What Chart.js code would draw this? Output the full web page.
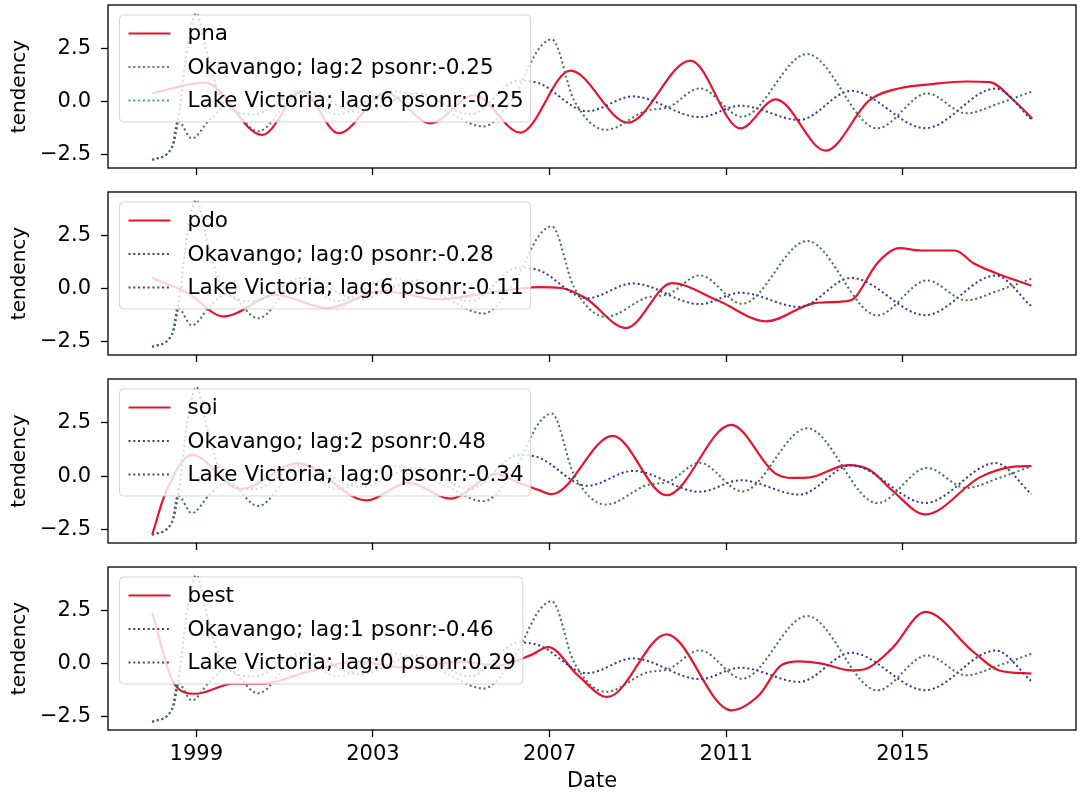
<!DOCTYPE html>
<html>
<head>
<meta charset="utf-8">
<script src="https://cdn.jsdelivr.net/npm/chart.js@4/dist/chart.umd.min.js"></script>
<style>
  html, body { margin: 0; padding: 0; background: #fff; }
  #wrap { position: relative; width: 1080px; height: 794px; }
  #wrap canvas { position: absolute; left: 0; }
</style>
</head>
<body>
<div id="wrap">
  <canvas id="panel0" width="1080" height="187" style="top:0px"></canvas>
  <canvas id="panel1" width="1080" height="187" style="top:187px"></canvas>
  <canvas id="panel2" width="1080" height="188" style="top:374px"></canvas>
  <canvas id="panel3" width="1080" height="232" style="top:562px"></canvas>
</div>
<script>
// axis ticks
const tickYears = [1999, 2003, 2007, 2011, 2015];
const tickValues = [-2.5, 0, 2.5];

// legend texts
const panelNames = ['pna', 'pdo', 'soi', 'best'];
const okavangoLabels = ['Okavango; lag:2 psonr:-0.25', 'Okavango; lag:0 psonr:-0.28', 'Okavango; lag:2 psonr:0.48', 'Okavango; lag:1 psonr:-0.46'];
const victoriaLabels = ['Lake Victoria; lag:6 psonr:-0.25', 'Lake Victoria; lag:6 psonr:-0.11', 'Lake Victoria; lag:0 psonr:-0.34', 'Lake Victoria; lag:0 psonr:0.29'];

// basin series (same in every panel)
const okavangoYears = [1998.0, 1998.45, 1998.6, 1998.8, 1999.0, 1999.25, 1999.6, 2000.3, 2001.4, 2002.7, 2004.0, 2005.2, 2006.3, 2006.76, 2007.85, 2008.89, 2010.4, 2011.32, 2012.66, 2013.83, 2015.51, 2017.1, 2017.91];
const okavangoValues = [-2.75, -2.15, -0.7, 2.6, 4.17, 2.2, 0.0, -0.6, 0.5, -0.5, 0.4, -0.6, 1.0, 0.87, -0.45, 0.25, -0.73, -0.19, -0.86, 0.51, -1.25, 0.62, -0.83];

const victoriaYears = [1998.0, 1998.45, 1998.58, 1998.9, 1999.3, 1999.7, 2000.4, 2001.3, 2002.2, 2003.4, 2004.6, 2005.5, 2006.2, 2006.76, 2007.05, 2007.55, 2008.27, 2009.2, 2009.7, 2010.4, 2011.36, 2012.83, 2014.42, 2015.55, 2016.43, 2017.18, 2017.91];
const victoriaValues = [-2.75, -2.15, -0.9, -1.73, -0.86, -0.25, -1.4, 0.3, -0.6, 0.5, -0.4, -1.17, 0.3, 2.5, 2.94, 0.08, -1.33, -0.42, -0.25, 0.63, -0.71, 2.25, -1.26, 0.39, -0.55, -0.08, 0.47];

// climate indices
const pnaYears = [1998.0, 1999.2, 2000.49, 2001.4, 2002.22, 2003.3, 2004.3, 2005.3, 2006.34, 2007.47, 2008.77, 2010.19, 2011.32, 2012.12, 2013.25, 2014.25, 2014.92, 2015.68, 2016.43, 2016.97, 2017.5, 2017.93];
const pnaValues = [0.4, 0.9, -1.57, 0.5, -1.49, 0.4, -1.02, 0.3, -1.46, 1.46, -0.99, 1.94, -1.26, 0.11, -2.31, 0.08, 0.63, 0.83, 0.95, 0.92, 0.08, -0.8];

const pdoYears = [1998.0, 1998.8, 1999.62, 2000.8, 2001.96, 2003.2, 2004.5, 2005.6, 2006.76, 2007.26, 2007.81, 2008.73, 2009.77, 2010.8, 2011.91, 2013.0, 2013.67, 2013.9, 2014.42, 2014.92, 2015.42, 2016.18, 2016.6, 2017.1, 2017.91];
const pdoValues = [0.5, -0.2, -1.31, -0.3, -0.92, -0.1, -0.5, -0.2, 0.07, 0.03, -0.44, -1.86, 0.26, -0.55, -1.54, -0.68, -0.6, -0.45, 1.2, 1.91, 1.8, 1.8, 1.2, 0.74, 0.14];

const soiYears = [1998.0, 1998.3, 1998.9, 2000.0, 2001.3, 2002.86, 2003.8, 2004.75, 2005.8, 2006.3, 2006.76, 2007.05, 2008.43, 2009.65, 2011.11, 2012.1, 2012.5, 2012.9, 2013.75, 2014.25, 2014.75, 2015.51, 2016.76, 2017.52, 2017.91];
const soiValues = [-2.75, -0.8, 1.0, -0.6, 0.6, -1.13, -0.3, -1.05, 0.1, -0.3, -0.65, -0.84, 1.89, -0.89, 2.41, 0.15, -0.08, -0.05, 0.52, 0.29, -0.65, -1.79, -0.03, 0.45, 0.48];

const bestYears = [1998.0, 1998.5, 1998.98, 1999.84, 2000.52, 2001.5, 2002.6, 2003.8, 2005.0, 2005.8, 2006.56, 2006.97, 2007.64, 2008.31, 2009.65, 2011.11, 2011.74, 2012.24, 2012.66, 2013.16, 2013.83, 2014.17, 2014.75, 2015.51, 2016.6, 2017.18, 2017.91];
const bestValues = [2.4, -0.95, -1.42, -0.94, -0.94, -0.4, 0.1, -0.2, 0.1, -0.1, 0.39, 0.78, -0.55, -1.57, 1.38, -2.2, -1.49, -0.08, 0.11, 0.0, -0.32, -0.24, 0.71, 2.44, 0.55, -0.32, -0.47];

const indexYears = [pnaYears, pdoYears, soiYears, bestYears];
const indexValues = [pnaValues, pdoValues, soiValues, bestValues];

Chart.defaults.font.family = '"DejaVu Sans", sans-serif';
Chart.defaults.color = '#000';

const FONT_SIZE = 21;
const RED = '#e8132e';
const OKA = '#35359a';
const VIC = '#3f7348';
const DOTS = [2, 2.8];
// legend handles: first panel shows coloured dots, the others dark ones
const handleColors = [['#6a6ab8', '#3fa584'], ['#474747', '#474747'], ['#474747', '#474747'], ['#474747', '#474747']];

const toPoints = (xs, ys) => xs.map((x, i) => ({ x: x, y: ys[i] }));

function roundBox(ctx, x, y, w, h, r) {
    ctx.beginPath();
    ctx.moveTo(x + r, y);
    ctx.arcTo(x + w, y, x + w, y + h, r);
    ctx.arcTo(x + w, y + h, x, y + h, r);
    ctx.arcTo(x, y + h, x, y, r);
    ctx.arcTo(x, y, x + w, y, r);
    ctx.closePath();
}

// axes frame + legend box drawn inside the plot, like the original
const frameLegend = {
    id: 'frameLegend',
    afterDraw(chart, args, opts) {
        const ctx = chart.ctx;
        const a = chart.chartArea;
        ctx.save();
        ctx.strokeStyle = '#000';
        ctx.lineWidth = 1.3;
        ctx.strokeRect(a.left, a.top, a.right - a.left, a.bottom - a.top);

        ctx.font = '21.5px "DejaVu Sans"';
        const textW = Math.max(...opts.items.map(it => ctx.measureText(it.label).width));
        const x0 = a.left + 11.5, y0 = a.top + 10;
        const w = 8 + 42 + 17 + textW + 8, h = 107;
        roundBox(ctx, x0, y0, w, h, 4);
        ctx.fillStyle = 'rgba(255,255,255,0.8)';
        ctx.fill();
        ctx.strokeStyle = 'rgba(204,204,204,0.8)';
        ctx.lineWidth = 1;
        ctx.stroke();

        opts.items.forEach((it, i) => {
            const y = y0 + 18.5 + i * 33.5;
            ctx.beginPath();
            ctx.setLineDash(it.dash);
            ctx.strokeStyle = it.color;
            ctx.lineWidth = it.width;
            ctx.moveTo(x0 + 9, y);
            ctx.lineTo(x0 + 51, y);
            ctx.stroke();
            ctx.setLineDash([]);
            ctx.fillStyle = '#000';
            ctx.textBaseline = 'middle';
            ctx.fillText(it.label, x0 + 68, y + 1);
        });
        ctx.restore();
    }
};

panelNames.forEach((name, k) => {
    const isLast = k === panelNames.length - 1;
    const tickGrid = { drawOnChartArea: false, drawTicks: true, tickLength: 7, tickColor: '#000', tickWidth: 1.3 };

    new Chart(document.getElementById('panel' + k), {
        type: 'line',
        data: {
            datasets: [
                { label: name, data: toPoints(indexYears[k], indexValues[k]), borderColor: RED, borderWidth: 2.2, order: 3 },
                { label: okavangoLabels[k], data: toPoints(okavangoYears, okavangoValues), borderColor: OKA, borderWidth: 2, borderDash: DOTS, order: 2 },
                { label: victoriaLabels[k], data: toPoints(victoriaYears, victoriaValues), borderColor: VIC, borderWidth: 2, borderDash: DOTS, order: 1 }
            ]
        },
        options: {
            responsive: false,
            animation: false,
            devicePixelRatio: 1,
            layout: { padding: { top: 5, right: 4, left: 0, bottom: 0 } },
            elements: {
                point: { radius: 0 },
                line: { cubicInterpolationMode: 'monotone', fill: false }
            },
            plugins: {
                legend: { display: false },
                tooltip: { enabled: false },
                frameLegend: {
                    items: [
                        { label: name, color: RED, dash: [], width: 2 },
                        { label: okavangoLabels[k], color: handleColors[k][0], dash: DOTS, width: 1.8 },
                        { label: victoriaLabels[k], color: handleColors[k][1], dash: DOTS, width: 1.8 }
                    ]
                }
            },
            scales: {
                x: {
                    type: 'linear',
                    min: 1997.0,
                    max: 2018.92,
                    afterBuildTicks: ax => { ax.ticks = tickYears.map(v => ({ value: v })); },
                    afterFit: ax => {
                        ax.height = isLast ? 64 : 19;
                        ax.paddingLeft = 0;
                        ax.paddingRight = 0;
                    },
                    grid: tickGrid,
                    border: { display: false },
                    ticks: {
                        color: isLast ? '#000' : 'rgba(0,0,0,0)',
                        font: { size: FONT_SIZE },
                        padding: 5,
                        maxRotation: 0,
                        autoSkip: false,
                        callback: v => String(v)
                    },
                    title: { display: isLast, text: 'Date', font: { size: FONT_SIZE }, padding: { top: 0, bottom: 0 } }
                },
                y: {
                    min: -3.13,
                    max: 4.56,
                    afterBuildTicks: ax => { ax.ticks = tickValues.map(v => ({ value: v })); },
                    afterFit: ax => {
                        ax.width = 108;
                        ax.paddingTop = 0;
                        ax.paddingBottom = 0;
                    },
                    grid: tickGrid,
                    border: { display: false },
                    ticks: {
                        font: { size: FONT_SIZE },
                        padding: 10,
                        callback: v => v.toFixed(1).replace('-', '\u2212')
                    },
                    title: { display: true, text: 'tendency', font: { size: 20 }, padding: { top: 8, bottom: 0 } }
                }
            }
        },
        plugins: [frameLegend]
    });
});
</script>
</body>
</html>
